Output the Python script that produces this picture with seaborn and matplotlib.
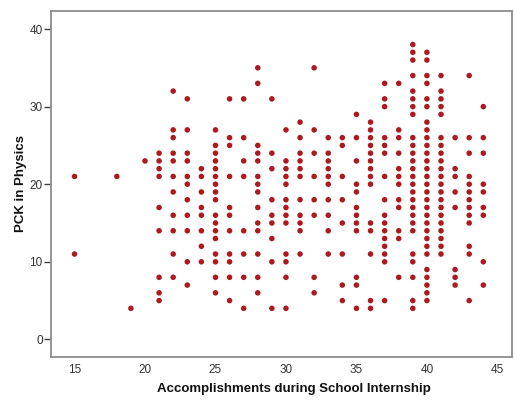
import matplotlib
matplotlib.use("Agg")
import matplotlib.pyplot as plt
import seaborn as sns
import pandas as pd

# PCK in Physics scores observed at each "Accomplishments" score
pck_15 = [21, 11]
pck_18 = [21]
pck_19 = [4]
pck_20 = [23]
pck_21 = [24, 23, 22, 21, 17, 14, 8, 6, 5]
pck_22 = [32, 27, 26, 24, 23, 21, 19, 16, 14, 11, 8]
pck_23 = [31, 27, 24, 23, 21, 20, 18, 16, 14, 10, 7]
pck_24 = [22, 21, 19, 17, 16, 14, 12, 10]
pck_25 = [27, 25, 24, 23, 22, 21, 20, 19, 18, 16, 15, 14, 13, 11, 10, 8, 6]
pck_26 = [31, 26, 25, 21, 17, 16, 14, 11, 10, 8, 5]
pck_27 = [31, 26, 23, 21, 14, 11, 8, 4]
pck_28 = [35, 33, 25, 24, 23, 21, 20, 19, 17, 15, 14, 11, 8, 6]
pck_29 = [31, 24, 22, 18, 16, 15, 13, 10, 4]
pck_30 = [27, 23, 22, 21, 20, 18, 17, 16, 15, 11, 10, 8, 4]
pck_31 = [28, 26, 24, 23, 22, 21, 18, 16, 15, 14, 11]
pck_32 = [35, 27, 24, 21, 18, 16, 8, 6]
pck_33 = [26, 24, 23, 22, 21, 20, 18, 16, 14, 11]
pck_34 = [26, 25, 21, 18, 15, 11, 7, 5]
pck_35 = [29, 26, 23, 20, 19, 17, 16, 15, 14, 8, 7, 4]
pck_36 = [28, 27, 26, 25, 24, 23, 22, 21, 20, 15, 14, 11, 5, 4]
pck_37 = [33, 31, 30, 26, 25, 24, 21, 18, 16, 15, 14, 13, 12, 11, 10, 5]
pck_38 = [33, 27, 26, 24, 22, 21, 20, 18, 17, 14, 13, 8]
pck_39 = [38, 37, 36, 34, 32, 31, 30, 29, 26, 25, 24, 23, 22, 21, 20, 19, 18,
          17, 16, 15, 14, 11, 10, 8, 5, 4]
pck_40 = [37, 36, 34, 33, 31, 30, 28, 27, 26, 25, 24, 23, 22, 21, 20, 19, 18,
          17, 16, 15, 14, 13, 12, 11, 9, 8, 7, 6, 5]
pck_41 = [34, 32, 31, 30, 29, 26, 25, 24, 23, 22, 21, 20, 19, 18, 17, 16, 15,
          14, 13, 12, 11]
pck_42 = [26, 22, 21, 19, 17, 9, 8, 7]
pck_43 = [34, 26, 24, 21, 20, 19, 18, 17, 16, 15, 12, 11, 5]
pck_44 = [30, 26, 24, 20, 19, 17, 16, 10, 7]

accomplishment_scores = [15, 18, 19, 20, 21, 22, 23, 24, 25, 26, 27, 28, 29,
                         30, 31, 32, 33, 34, 35, 36, 37, 38, 39, 40, 41, 42,
                         43, 44]
pck_lists = [pck_15, pck_18, pck_19, pck_20, pck_21, pck_22, pck_23, pck_24,
             pck_25, pck_26, pck_27, pck_28, pck_29, pck_30, pck_31, pck_32,
             pck_33, pck_34, pck_35, pck_36, pck_37, pck_38, pck_39, pck_40,
             pck_41, pck_42, pck_43, pck_44]

x_ticks = [15, 20, 25, 30, 35, 40, 45]
y_ticks = [0, 10, 20, 30, 40]

rows = []
for xs, ys in zip(accomplishment_scores, pck_lists):
    for yv in ys:
        rows.append((xs, yv))
df = pd.DataFrame(rows, columns=["acc", "pck"])

sns.set_theme(style="white")
plt.rcParams["font.family"] = ["Liberation Sans", "DejaVu Sans"]

fig = plt.figure(figsize=(5.15, 4.01), dpi=100)
ax = fig.add_axes([0.099, 0.1105, 0.895, 0.862])

sns.scatterplot(data=df, x="acc", y="pck", ax=ax, color="#ac1a20",
                s=16, linewidth=0, edgecolor="none", legend=False)

ax.set_xlim(13.33, 46.03)
ax.set_ylim(-2.23, 42.32)
ax.set_xticks(x_ticks)
ax.set_yticks(y_ticks)

for sp in ax.spines.values():
    sp.set_color("#8c8c8c")
    sp.set_linewidth(1.3)

ax.tick_params(axis="y", which="major", direction="out", length=5,
               width=1, color="#404040", labelsize=8.5, labelcolor="#333333",
               pad=1, left=True, right=False)
ax.tick_params(axis="x", which="major", direction="out", length=0,
               width=1, color="#404040", labelsize=8.5, labelcolor="#333333",
               pad=5, bottom=True, top=False)

ax.set_xlabel("Accomplishments during School Internship", fontsize=9.5,
              fontweight="bold", color="#111111", labelpad=5)
ax.set_ylabel("PCK in Physics", fontsize=9.5, fontweight="bold",
              color="#111111", labelpad=1.5)
ax.xaxis.label.set_x(0.527)

fig.savefig("out.png", dpi=100)
